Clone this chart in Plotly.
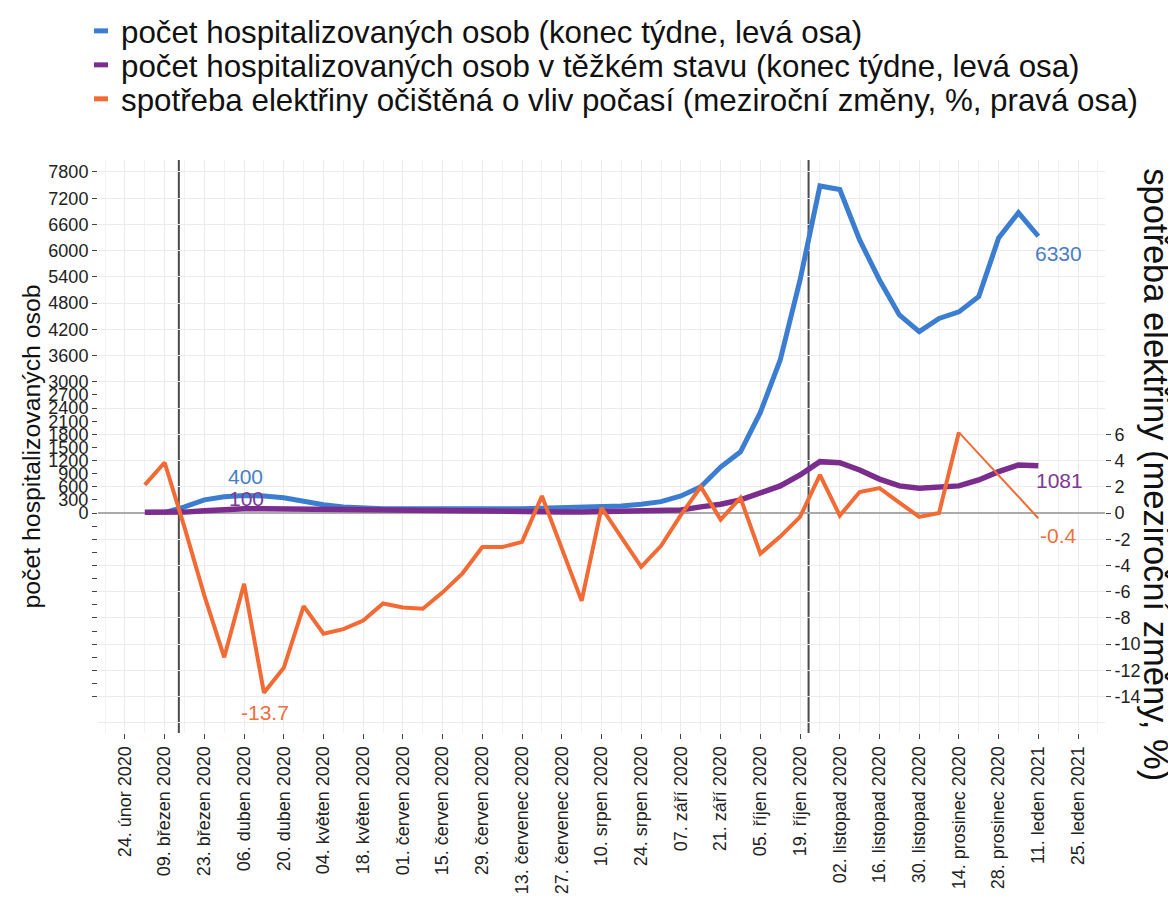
import pandas as pd
import plotly.graph_objects as go

# ---------------- data ----------------
weeks = pd.date_range("2020-03-02", periods=46, freq="7D")

hosp = [None, 10, 140, 300, 370, 400, 390, 350, 270, 190, 140, 115, 100, 95, 90, 88, 88, 90, 95, 100,
        115, 120, 125, 140, 160, 200, 260, 390, 600, 1050, 1400, 2300, 3500, 5330, 7480, 7400,
        6245, 5330, 4530, 4150, 4450, 4600, 4950, 6290, 6870, 6330]

severe = [15, 15, 20, 50, 80, 100, 100, 95, 85, 70, 60, 50, 40, 35, 30, 28, 25, 25, 25, 25,
          25, 25, 25, 28, 32, 40, 50, 70, 140, 200, 300, 450, 620, 870, 1175, 1150,
          985, 775, 620, 565, 590, 620, 755, 945, 1100, 1081]

electricity = [2.15, 3.85, -1.1, -6.3, -11.0, -5.4, -13.7, -11.8, -7.1, -9.2, -8.85, -8.2, -6.9, -7.2,
               -7.3, -6.05, -4.6, -2.6, -2.6, -2.2, 1.3, -2.7, -6.7, 0.4, -1.8, -4.1, -2.5, -0.15,
               2.0, -0.5, 1.15, -3.1, -1.8, -0.3, 2.9, -0.2, 1.6, 1.9, 0.8, -0.3, 0.0, 6.15]
electricity_last = -0.4

milestones = ["2020-03-14", "2020-10-22"]

xtick_dates = ["2020-02-24", "2020-03-09", "2020-03-23", "2020-04-06", "2020-04-20", "2020-05-04",
               "2020-05-18", "2020-06-01", "2020-06-15", "2020-06-29", "2020-07-13", "2020-07-27",
               "2020-08-10", "2020-08-24", "2020-09-07", "2020-09-21", "2020-10-05", "2020-10-19",
               "2020-11-02", "2020-11-16", "2020-11-30", "2020-12-14", "2020-12-28", "2021-01-11",
               "2021-01-25"]
xtick_labels = ["24. únor 2020", "09. březen 2020", "23. březen 2020", "06. duben 2020", "20. duben 2020",
                "04. květen 2020", "18. květen 2020", "01. červen 2020", "15. červen 2020", "29. červen 2020",
                "13. červenec 2020", "27. červenec 2020", "10. srpen 2020", "24. srpen 2020", "07. září 2020",
                "21. září 2020", "05. říjen 2020", "19. říjen 2020", "02. listopad 2020", "16. listopad 2020",
                "30. listopad 2020", "14. prosinec 2020", "28. prosinec 2020", "11. leden 2021", "25. leden 2021"]

left_ticks_neg = [-4200, -3900, -3600, -3300, -3000, -2700, -2400, -2100, -1800, -1500, -1200, -900, -600, -300]
left_ticks_pos = [0, 300, 600, 900, 1200, 1500, 1800, 2100, 2400, 2700, 3000,
                  3600, 4200, 4800, 5400, 6000, 6600, 7200, 7800]
right_ticks = [-14, -12, -10, -8, -6, -4, -2, 0, 2, 4, 6]
grid_vals = [-4800, -4200, -3600, -3000, -2400, -1800, -1200, -600, 0, 600, 1200, 1800, 2400, 3000,
             3600, 4200, 4800, 5400, 6000, 6600, 7200, 7800]

names = ["počet hospitalizovaných osob (konec týdne, levá osa)",
         "počet hospitalizovaných osob v těžkém stavu (konec týdne, levá osa)",
         "spotřeba elektřiny očištěná o vliv počasí (meziroční změny, %, pravá osa)"]

BLUE = "#3b7dd1"
PURPLE = "#7b2d8e"
ORANGE = "#f26b35"
FONT = "Liberation Sans, Arial, sans-serif"

LEFT_RANGE = [-5032, 8074]
RIGHT_RANGE = [LEFT_RANGE[0] / 300, LEFT_RANGE[1] / 300]

fig = go.Figure()

# invisible trace for the grid axis
fig.add_trace(go.Scatter(x=[weeks[0]], y=[None], yaxis="y3", showlegend=False, hoverinfo="skip"))

fig.add_trace(go.Scatter(x=weeks, y=hosp, mode="lines", line=dict(color=BLUE, width=5),
                         showlegend=False, name=names[0]))
fig.add_trace(go.Scatter(x=weeks, y=severe, mode="lines", line=dict(color=PURPLE, width=5.5),
                         showlegend=False, name=names[1]))
fig.add_trace(go.Scatter(x=weeks[:len(electricity)], y=electricity, mode="lines", yaxis="y2",
                         line=dict(color=ORANGE, width=4), showlegend=False, name=names[2]))
fig.add_trace(go.Scatter(x=[weeks[len(electricity) - 1], weeks[-1]], y=[electricity[-1], electricity_last],
                         mode="lines", yaxis="y2", line=dict(color=ORANGE, width=2), showlegend=False))

# legend entries (one legend per row so rows can sit as tightly as in the original)
legend_ids = ["legend", "legend2", "legend3"]
for nm, col, lg in zip(names, [BLUE, PURPLE, ORANGE], legend_ids):
    fig.add_trace(go.Scatter(x=[None], y=[None], mode="markers", name=nm, legend=lg,
                             marker=dict(symbol="line-ew", size=10, color=col,
                                         line=dict(color=col, width=6))))

# value labels
peak_i = hosp.index(max(v for v in hosp[:20] if v is not None))
sev_peak_i = severe.index(max(severe[:20]))
min_i = electricity.index(min(electricity))
ann = [
    dict(x=weeks[peak_i], y=hosp[peak_i], yref="y", text=str(hosp[peak_i]), yshift=19, xshift=1,
         font=dict(color="#4a7dc4", size=21)),
    dict(x=weeks[sev_peak_i], y=severe[sev_peak_i], yref="y", text=str(severe[sev_peak_i]), yshift=10, xshift=2,
         font=dict(color="#7d3a95", size=21)),
    dict(x=weeks[min_i], y=electricity[min_i], yref="y2", text=str(electricity[min_i]), yshift=-20, xshift=1,
         font=dict(color="#f07040", size=21)),
    dict(x=weeks[-1], y=hosp[-1], yref="y", text=str(hosp[-1]), yshift=-17, xshift=20,
         font=dict(color="#4a7dc4", size=21)),
    dict(x=weeks[-1], y=severe[-1], yref="y", text=str(severe[-1]), yshift=-15, xshift=21,
         font=dict(color="#7d3a95", size=21)),
    dict(x=weeks[-1], y=electricity_last, yref="y2", text=str(electricity_last), yshift=-17, xshift=20,
         font=dict(color="#f07040", size=21)),
]
for a in ann:
    a.update(xref="x", showarrow=False)
ann.append(dict(xref="paper", yref="paper", x=1.051, y=0.451, text="spotřeba elektřiny (meziroční změny, %)",
                textangle=90, showarrow=False, font=dict(size=34.5, color="#111"), xanchor="center",
                yanchor="middle"))

shapes = [dict(type="line", xref="x", yref="paper", x0=m, x1=m, y0=0, y1=1,
               line=dict(color="#4a4a4a", width=2), layer="below") for m in milestones]

minor_vals = [str((pd.Timestamp(d) + pd.Timedelta(days=7)).date()) for d in xtick_dates]
minor_vals = [str((pd.Timestamp(xtick_dates[0]) - pd.Timedelta(days=7)).date())] + minor_vals

legend_common = dict(xanchor="left", yanchor="middle", font=dict(size=31.3, color="#111"),
                     itemwidth=30, bgcolor="rgba(0,0,0,0)", x=-0.0169)

fig.update_layout(
    width=1168, height=905,
    margin=dict(l=90, r=71, t=152, b=180, autoexpand=False),
    paper_bgcolor="white", plot_bgcolor="white",
    font=dict(family=FONT, color="#222"),
    shapes=shapes,
    annotations=ann,
    legend=dict(y=1.2251, **legend_common),
    legend2=dict(y=1.1658, **legend_common),
    legend3=dict(y=1.1065, **legend_common),
    xaxis=dict(type="date", range=["2020-02-14 12:00", "2021-02-03 12:00"],
               tickmode="array", tickvals=xtick_dates, ticktext=xtick_labels, tickangle=-90,
               ticks="outside", ticklen=5, tickcolor="#444", tickfont=dict(size=18, color="#222"),
               showgrid=True, gridcolor="#ebebeb", gridwidth=1, zeroline=False, showline=False,
               minor=dict(tickmode="array", tickvals=minor_vals, showgrid=True, gridcolor="#f2f2f2",
                          ticks="")),
    yaxis=dict(range=LEFT_RANGE, tickmode="array", tickvals=left_ticks_neg + left_ticks_pos,
               ticktext=[""] * len(left_ticks_neg) + [str(v) for v in left_ticks_pos],
               ticks="outside", ticklen=5, tickcolor="#444", tickfont=dict(size=18, color="#222"),
               showgrid=False, zeroline=True, zerolinecolor="#aaaaaa", zerolinewidth=2, showline=False,
               title=dict(text="počet hospitalizovaných osob", font=dict(size=24.8, color="#111"), standoff=0)),
    yaxis2=dict(range=RIGHT_RANGE, overlaying="y", side="right", tickmode="array", tickvals=right_ticks,
                ticktext=[str(v) for v in right_ticks], ticks="outside", ticklen=5, tickcolor="#444",
                tickfont=dict(size=18, color="#222"), showgrid=False, zeroline=False, showline=False),
    yaxis3=dict(range=LEFT_RANGE, overlaying="y", anchor="x", tickmode="array", tickvals=grid_vals,
                showticklabels=False, ticks="", showgrid=True, gridcolor="#ebebeb", zeroline=False,
                showline=False),
)

fig.write_html("out.html")
